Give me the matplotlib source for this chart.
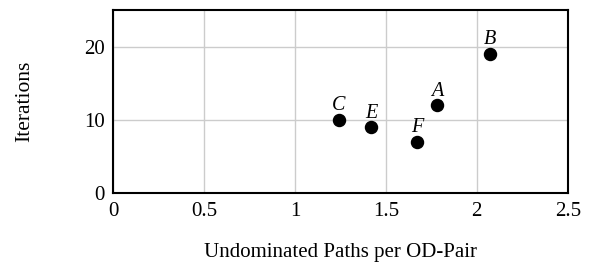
import matplotlib
matplotlib.use("Agg")
import matplotlib.pyplot as plt

labels = ["A", "B", "C", "E", "F"]
paths = [1.78, 2.07, 1.24, 1.42, 1.67]
iterations = [12, 19, 10, 9, 7]

x_ticks = [0, 0.5, 1, 1.5, 2, 2.5]
x_tick_labels = ["0", "0.5", "1", "1.5", "2", "2.5"]
y_ticks = [0, 10, 20]

plt.rcParams['font.family'] = ['Liberation Serif', 'DejaVu Serif']

fig = plt.figure(figsize=(5.91, 2.62), dpi=100)
ax = fig.add_axes([0.1912, 0.2622, 0.7694, 0.6996])
ax.set_xlim(0, 2.5)
ax.set_ylim(0, 25)
ax.grid(True, color="#cccccc", linewidth=1.0)
ax.set_axisbelow(True)
ax.scatter(paths, iterations, s=75, color="black", zorder=3)
for lab, xv, yv in zip(labels, paths, iterations):
    ax.annotate(lab, (xv, yv), xytext=(0, 7), textcoords="offset points",
                ha="center", va="baseline", fontsize=14.5, style="italic")
ax.set_xticks(x_ticks)
ax.set_xticklabels(x_tick_labels)
ax.set_yticks(y_ticks)
ax.tick_params(length=0, labelsize=15)
ax.tick_params(axis="x", pad=6)
ax.tick_params(axis="y", pad=6)
for s in ax.spines.values():
    s.set_linewidth(1.5)
ax.set_xlabel("Undominated Paths per OD-Pair", fontsize=15, labelpad=16)
ax.set_ylabel("Iterations", fontsize=15.5, labelpad=36)
fig.savefig("out.png", dpi=100)
